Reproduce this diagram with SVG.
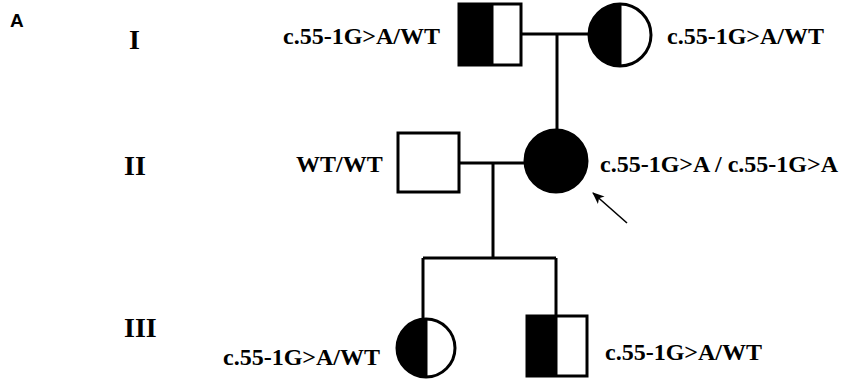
<svg xmlns="http://www.w3.org/2000/svg" width="843" height="381" viewBox="0 0 843 381">
  <style>
    .sym { stroke: #000; stroke-width: 3; fill: #fff; }
    .half { fill: #000; stroke: none; }
    .line { stroke: #000; stroke-width: 3; fill: none; }
    .lbl { font-family: "Liberation Serif", "Times New Roman", serif; font-weight: bold; font-size: 24px; fill: #000; }
    .gen { font-family: "Liberation Serif", "Times New Roman", serif; font-weight: bold; font-size: 28px; fill: #000; }
    .panel { font-family: "Liberation Sans", Arial, sans-serif; font-weight: bold; font-size: 19px; fill: #000; }
  </style>
  <defs>
    <marker id="arrowhead" markerWidth="12" markerHeight="10" refX="11" refY="5" orient="auto" markerUnits="userSpaceOnUse">
      <path d="M0,0 L12,5 L0,10 L3,5 Z" fill="#000"/>
    </marker>
  </defs>
  <rect width="843" height="381" fill="#fff"/>

  <text class="panel" x="10" y="27">A</text>
  <text class="gen" x="129" y="49">I</text>
  <text class="gen" x="124" y="175">II</text>
  <text class="gen" x="124" y="337">III</text>

  <!-- connectors -->
  <g id="connectors">
    <line class="line" x1="522" y1="34" x2="589" y2="34"/>
    <line class="line" x1="557" y1="34" x2="557" y2="130"/>
    <line class="line" x1="459" y1="163" x2="525" y2="163"/>
    <line class="line" x1="493" y1="163" x2="493" y2="258"/>
    <line class="line" x1="423" y1="258" x2="556" y2="258"/>
    <line class="line" x1="423" y1="258" x2="423" y2="319"/>
    <line class="line" x1="556" y1="258" x2="556" y2="316"/>
    <line stroke="#000" stroke-width="1.6" x1="627" y1="223" x2="593" y2="193" marker-end="url(#arrowhead)"/>
  </g>

  <!-- I-1: carrier male -->
  <g id="I-1">
    <rect class="sym" x="459" y="4" width="62" height="61"/>
    <rect class="half" x="459" y="4" width="33" height="61"/>
    <line class="line" x1="492" y1="4" x2="492" y2="65"/>
    <text class="lbl" x="283" y="44">c.55-1G&gt;A/WT</text>
  </g>

  <!-- I-2: carrier female -->
  <g id="I-2">
    <circle class="sym" cx="620" cy="35" r="31"/>
    <path class="half" d="M620,4 A31,31 0 0,0 620,66 Z"/>
    <line class="line" x1="620" y1="4" x2="620" y2="66"/>
    <text class="lbl" x="667" y="44">c.55-1G&gt;A/WT</text>
  </g>

  <!-- II-1: unaffected male -->
  <g id="II-1">
    <rect class="sym" x="398" y="133" width="61" height="59"/>
    <text class="lbl" x="296" y="172">WT/WT</text>
  </g>

  <!-- II-2: affected female (proband) -->
  <g id="II-2">
    <circle cx="556" cy="161" r="31" fill="#000" stroke="#000" stroke-width="3"/>
    <text class="lbl" x="600" y="172">c.55-1G&gt;A / c.55-1G&gt;A</text>
  </g>

  <!-- III-1: carrier female -->
  <g id="III-1">
    <circle class="sym" cx="426" cy="348" r="29"/>
    <path class="half" d="M426,319 A29,29 0 0,0 426,377 Z"/>
    <line class="line" x1="426" y1="319" x2="426" y2="377"/>
    <text class="lbl" x="223" y="365">c.55-1G&gt;A/WT</text>
  </g>

  <!-- III-2: carrier male -->
  <g id="III-2">
    <rect class="sym" x="527" y="316" width="60" height="60"/>
    <rect class="half" x="527" y="316" width="29" height="60"/>
    <line class="line" x1="556" y1="316" x2="556" y2="376"/>
    <text class="lbl" x="605" y="360">c.55-1G&gt;A/WT</text>
  </g>
</svg>
